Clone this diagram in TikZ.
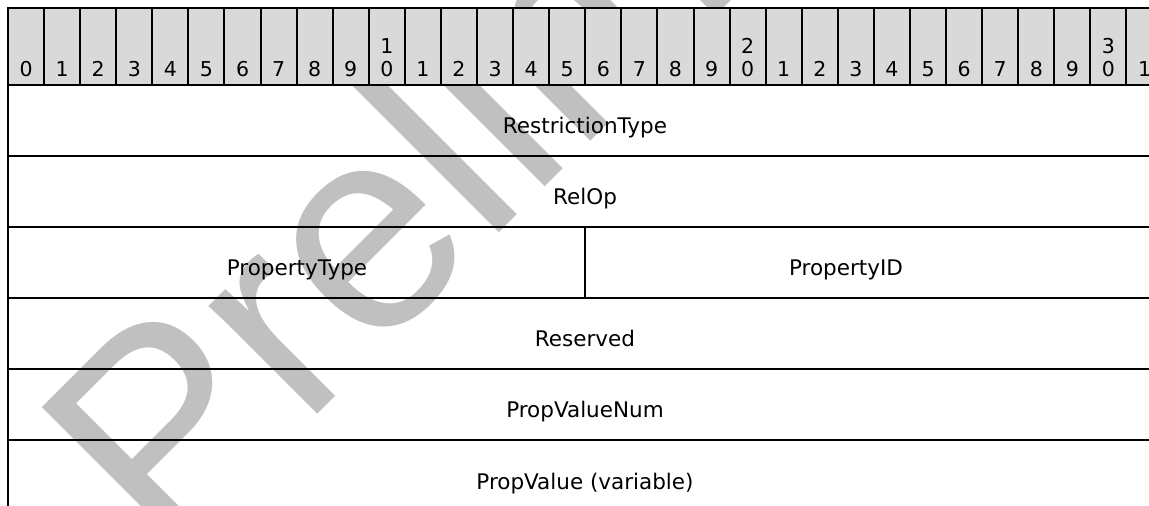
\documentclass[tikz,border=0pt]{standalone}
\usepackage{fontspec}
\setmainfont{DejaVu Sans}
\newfontfamily\wmfont{Liberation Sans}
\usepackage{tikz}
\definecolor{hdrgray}{HTML}{D9D9D9}
\definecolor{wmgray}{HTML}{C0C0C0}

\begin{document}
\begin{tikzpicture}[x=1pt,y=-1pt,line width=2pt,
  font=\fontsize{20.5}{23}\selectfont,
  bitlbl/.style={anchor=base,inner sep=0pt},
  fieldlbl/.style={anchor=base,inner sep=0pt,font=\fontsize{21.5}{24}\selectfont}]
  \useasboundingbox (0,0) rectangle (1149,506);
  \clip (0,0) rectangle (1149,506);
  % watermark
  \node[anchor=base west,rotate=45,inner sep=0pt,text=wmgray,
    font=\wmfont\fontsize{290}{290}\selectfont] (wmark) at (166,566) {Preliminary};
  % header row
  \fill[hdrgray] (8,8) rectangle (1162,85);
  \foreach \i in {0,...,31}{
    \pgfmathtruncatemacro\d{mod(\i,10)}
    \pgfmathtruncatemacro\t{\i/10}
    \node[bitlbl] (b\i) at ({8+36.08*(\i+0.5)},76) {\d};
    \ifnum\d=0 \ifnum\i>0
      \node[bitlbl] (t\i) at ({8+36.08*(\i+0.5)},53) {\t};
    \fi\fi
  }
  \foreach \i in {1,...,31}
    \draw (8+36.08*\i,8)--(8+36.08*\i,85);
  % fields
  \node[fieldlbl] (restype) at (585,133) {RestrictionType};
  \node[fieldlbl] (relop) at (585,204.2) {RelOp};
  \node[fieldlbl] (proptype) at (297,275.4) {PropertyType};
  \node[fieldlbl] (propid) at (846,275.4) {PropertyID};
  \node[fieldlbl] (reserved) at (585,346.6) {Reserved};
  \node[fieldlbl] (propvalnum) at (585,417.8) {PropValueNum};
  \node[fieldlbl] (propval) at (585,489) {PropValue (variable)};
  \draw (8,520)--(8,8)--(1162,8)--(1162,520);
  \foreach \y in {85,156,227,298,369,440}
    \draw (8,\y)--(1162,\y);
  \draw (585,227)--(585,298);
\end{tikzpicture}
\end{document}
